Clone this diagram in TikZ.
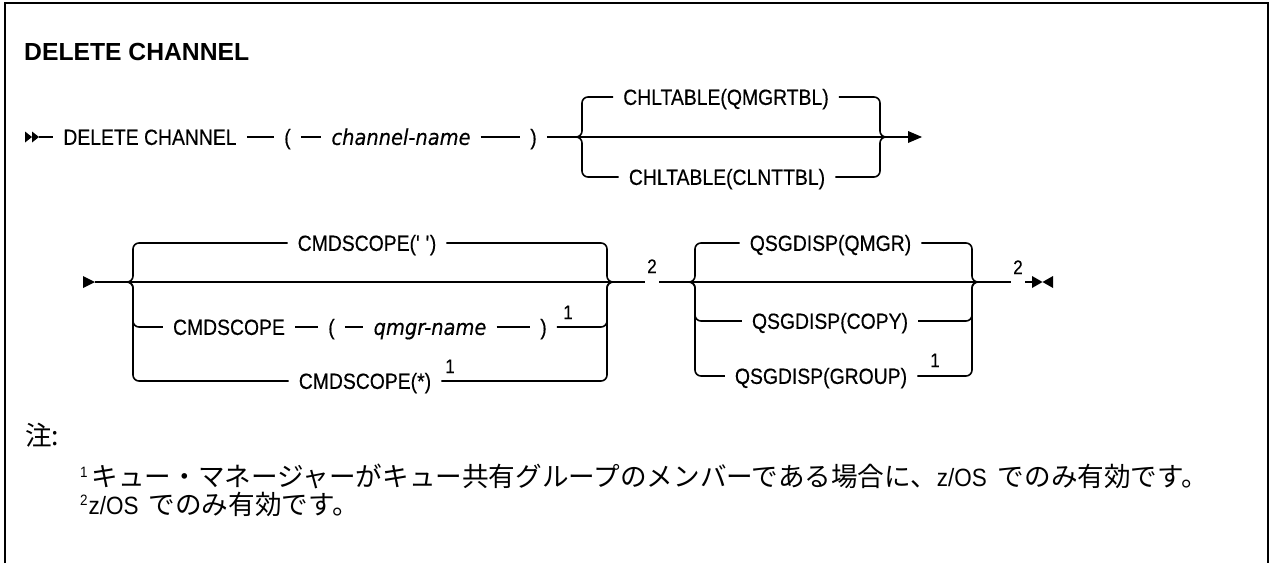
\documentclass[tikz,border=0pt]{standalone}
\usepackage{fontspec}
\setmainfont{Liberation Sans}
\newfontfamily\lblfont[FakeStretch=0.88, FakeBold=0.4]{Liberation Sans}
\newfontfamily\notelatfont[FakeStretch=0.9]{Liberation Sans}
\newfontfamily\dvsfont[FakeStretch=0.9, FakeBold=0.4]{DejaVu Sans}
\newfontfamily\jpfont{Noto Sans CJK JP}
\newcommand\mylblf{\lblfont\fontsize{22}{25}\selectfont}
\newcommand\myitf{\dvsfont\itshape\fontsize{21.6}{25}\selectfont}
\newcommand\mymkf{\lblfont\fontsize{19.5}{22}\selectfont}
\newcommand\mytitlef{\bfseries\fontsize{24.7}{28}\selectfont}
\newcommand\myjpf{\jpfont\fontsize{26.6}{30}\selectfont}
\newcommand\mylatf{\notelatfont\fontsize{25}{28}\selectfont}
\newcommand\fnmark[1]{\raisebox{9pt}{\notelatfont\fontsize{15}{15}\selectfont #1}}
\begin{document}
\begin{tikzpicture}[x=1pt,y=-1pt,
  lbl/.style={font=\mylblf, inner xsep=10pt, inner ysep=0pt, text height=15.75pt, text depth=0pt},
  ital/.style={lbl, font=\myitf},
  mk/.style={font=\mymkf, inner xsep=2.5pt, inner ysep=0pt, text height=14pt, text depth=0pt},
  conn/.style={line width=1.6pt},
  br/.style={conn, rounded corners=6pt},
  tipmark/.style={fill=black, draw=none}]
\useasboundingbox (0,0) rectangle (1274,563);
% frame
\draw[line width=2.3pt] (5,563) -- (5,3) -- (1268,3) -- (1268,563);
% title
\node[anchor=west, font=\mytitlef, inner sep=0pt, text height=17.7pt, text depth=0pt] (title) at (24,52) {DELETE CHANNEL};

% ---------- row 1 ----------
\coordinate (s1) at (39,137);
\node[lbl] (dc) at (150,137) {DELETE CHANNEL};
\node[lbl] (lp1) at (287.5,137) {(};
\node[ital] (cn) at (401,137) {channel-name};
\node[lbl] (rp1) at (533.5,137) {)};
\coordinate (b1L) at (575,137);
\coordinate (v1L) at (582,137);
\coordinate (v1R) at (880,137);
\coordinate (b1R) at (888,137);
\coordinate (e1) at (908,137);
\node[lbl] (q1) at (726,97) {CHLTABLE(QMGRTBL)};
\node[lbl] (c1) at (727,177) {CHLTABLE(CLNTTBL)};

\fill[tipmark] (25,131.5) -- (32,137) -- (25,142.5) -- cycle;
\fill[tipmark] (32,131.5) -- (39,137) -- (32,142.5) -- cycle;
\draw[conn] (s1) -- (dc);
\draw[conn] (dc) -- (lp1);
\draw[conn] (lp1) -- (cn);
\draw[conn] (cn) -- (rp1);
\draw[conn] (rp1) -- (b1L) -- (b1R) -- (e1);
\draw[br] (b1L) -| (v1L |- q1) -- (q1);
\draw[br] (q1) -| (v1R) -- (b1R);
\draw[br] (b1L) -| (v1L |- c1) -- (c1);
\draw[br] (c1) -| (v1R) -- (b1R);
\fill[tipmark] (908,131) -- (922,137) -- (908,143) -- cycle;

% ---------- row 2 ----------
\coordinate (s2) at (95,282);
\coordinate (b2L) at (126,282);
\coordinate (v2L) at (133,282);
\coordinate (v2R) at (607,282);
\coordinate (b2R) at (614,282);
\node[lbl] (cs1) at (367,243) {CMDSCOPE(\textquotesingle{} \textquotesingle)};
\node[lbl] (cs2) at (229,327) {CMDSCOPE};
\node[lbl] (lp2) at (331.5,327) {(};
\node[ital] (qn) at (430,327) {qmgr-name};
\node[lbl] (rp2) at (543.5,327) {)};
\node[mk] (f1a) at (568,312) {1};
\node[lbl] (cs3) at (365,381) {CMDSCOPE(*)};
\node[mk] (f1b) at (450,366) {1};
\node[mk] (m2) at (652,266) {2};

\coordinate (b3L) at (688,282);
\coordinate (v3L) at (695,282);
\coordinate (v3R) at (972,282);
\coordinate (b3R) at (979,282);
\node[lbl] (qs1) at (830.5,243) {QSGDISP(QMGR)};
\node[lbl] (qs2) at (830,321) {QSGDISP(COPY)};
\node[lbl] (qs3) at (821,376) {QSGDISP(GROUP)};
\node[mk] (f1c) at (935,360) {1};
\node[mk] (m3) at (1018,267) {2};
\coordinate (e2) at (1032,282);

\fill[tipmark] (83,276) -- (95,282) -- (83,288) -- cycle;
\draw[conn] (s2) -- (b2L) -- (b2R) -- (m2.west |- b2R);
\draw[conn] (m2.east |- b2R) -- (b3L) -- (b3R) -- (m3.west |- b3R);
\draw[conn] (m3.east |- b3R) -- (e2);

\draw[br] (b2L) -| (v2L |- cs1) -- (cs1);
\draw[br] (cs1) -| (v2R) -- (b2R);
\draw[br] (b2L) -| (v2L |- cs2) -- (cs2);
\draw[conn] (cs2) -- (lp2);
\draw[conn] (lp2) -- (qn);
\draw[conn] (qn) -- (rp2);
\draw[br] (rp2) -| (v2R) -- (b2R);
\draw[br] (b2L) -| (v2L |- cs3) -- (cs3);
\draw[br] (cs3) -| (v2R) -- (b2R);

\draw[br] (b3L) -| (v3L |- qs1) -- (qs1);
\draw[br] (qs1) -| (v3R) -- (b3R);
\draw[br] (b3L) -| (v3L |- qs2) -- (qs2);
\draw[br] (qs2) -| (v3R) -- (b3R);
\draw[br] (b3L) -| (v3L |- qs3) -- (qs3);
\draw[br] (qs3) -| (v3R) -- (b3R);

\fill[tipmark] (1032,276) -- (1042.5,282) -- (1032,288) -- cycle;
\fill[tipmark] (1053,276) -- (1042.5,282) -- (1053,288) -- cycle;

% ---------- notes ----------
\node[anchor=base west, inner sep=0pt, font=\myjpf] (note) at (25,445) {注:};
\node[anchor=base west, inner sep=0pt] (fn1) at (80,486) {\fnmark{1}\hspace{4pt}{\myjpf キュー・マネージャーがキュー共有グループのメンバーである場合に、}{\mylatf z/OS}\hspace{11pt}{\myjpf でのみ有効です。}};
\node[anchor=base west, inner sep=0pt] (fn2) at (80,514) {\fnmark{2}\hspace{1pt}{\mylatf z/OS}\hspace{10pt}{\myjpf でのみ有効です。}};
\end{tikzpicture}
\end{document}
